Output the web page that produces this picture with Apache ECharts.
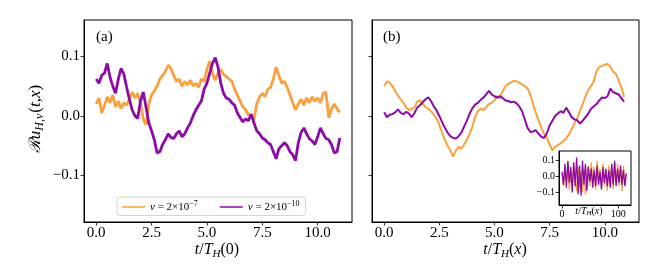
<!DOCTYPE html>
<html><head><meta charset="utf-8">
<script src="https://cdn.jsdelivr.net/npm/echarts@6/dist/echarts.min.js"></script>
<style>html,body{margin:0;padding:0;background:#fff}#c{width:666px;height:268px}</style>
</head><body><div id="c"></div>
<script>
// sample spacing of the read-off series (t / T_H)
const stepMain = 0.125;
const stepInset = 2.6;
const xTicks = [0, 2.5, 5, 7.5, 10];
const yTicks = [-0.1, 0, 0.1];
const insetXTicks = [0, 100];
const seriesNames = ['nu7', 'nu10'];

const orangeA = [0.020,0.030,0.005,0.018,0.032,0.022,0.035,0.015,0.025,0.012,0.022,0.018,0.028,0.040,0.030,0.038,
0.022,-0.005,-0.015,0.020,0.035,0.042,0.050,0.062,0.068,0.075,0.085,0.080,0.068,0.058,0.062,0.050,
0.058,0.052,0.060,0.050,0.055,0.048,0.062,0.058,0.078,0.092,0.070,0.060,0.072,0.078,0.070,0.066,
0.062,0.058,0.045,0.035,0.025,0.015,0.010,0.002,0.000,-0.006,0.020,0.032,0.038,0.032,0.045,0.048,
0.062,0.082,0.068,0.055,0.058,0.048,0.035,0.022,0.010,0.020,0.028,0.018,0.030,0.022,0.032,0.025,
0.030,0.022,0.038,0.040,-0.003,0.012,0.020,0.012,0.006];
const purpleA = [0.062,0.055,0.068,0.072,0.088,0.065,0.050,0.038,0.062,0.080,0.070,0.048,0.028,0.010,0.000,-0.004,
0.025,0.040,0.015,-0.012,-0.025,-0.040,-0.062,-0.060,-0.048,-0.040,-0.030,-0.036,-0.038,-0.030,-0.025,-0.035,
-0.030,-0.020,-0.012,0.000,0.010,0.018,0.025,0.045,0.055,0.072,0.088,0.098,0.082,0.055,0.038,0.030,
0.028,0.022,0.018,0.005,-0.003,-0.010,-0.005,-0.008,0.003,-0.012,-0.025,-0.030,-0.037,-0.040,-0.045,-0.048,
-0.060,-0.072,-0.055,-0.050,-0.045,-0.050,-0.060,-0.065,-0.075,-0.045,-0.028,-0.020,-0.030,-0.038,-0.042,-0.048,
-0.035,-0.020,-0.030,-0.038,-0.040,-0.048,-0.062,-0.060,-0.037];
const orangeB = [0.050,0.058,0.056,0.050,0.042,0.034,0.028,0.022,0.014,0.010,0.012,0.014,0.024,0.026,0.020,0.015,
0.012,0.008,0.002,-0.004,-0.015,-0.028,-0.040,-0.050,-0.058,-0.068,-0.058,-0.052,-0.055,-0.048,-0.040,-0.030,
-0.018,-0.002,0.008,0.012,0.010,0.015,0.020,0.022,0.026,0.033,0.030,0.042,0.050,0.054,0.056,0.059,
0.058,0.056,0.053,0.050,0.046,0.036,0.020,0.005,-0.008,-0.020,-0.030,-0.036,-0.048,-0.058,-0.052,-0.049,
-0.046,-0.042,-0.038,-0.031,-0.022,-0.013,-0.004,0.008,0.020,0.033,0.043,0.050,0.058,0.075,0.082,0.084,
0.086,0.087,0.083,0.074,0.071,0.060,0.048,0.032];
const purpleB = [0.006,-0.002,0.002,0.003,0.006,0.011,0.005,0.003,0.007,0.004,-0.002,0.005,0.014,0.018,0.023,0.028,
0.031,0.025,0.016,0.009,0.000,-0.010,-0.020,-0.028,-0.034,-0.037,-0.038,-0.034,-0.028,-0.018,-0.008,0.004,
0.013,0.019,0.022,0.027,0.031,0.036,0.042,0.036,0.033,0.031,0.033,0.030,0.026,0.025,0.023,0.024,
0.021,0.016,0.008,-0.006,-0.020,-0.027,-0.026,-0.024,-0.030,-0.035,-0.037,-0.029,-0.016,-0.008,0.000,0.004,
0.008,0.005,0.014,0.006,-0.002,-0.006,-0.007,-0.013,-0.008,-0.002,0.004,0.012,0.016,0.020,0.026,0.031,
0.030,0.033,0.046,0.040,0.038,0.036,0.030,0.024];
const orangeInset = [0.02,-0.06,0.05,-0.03,0.08,-0.08,0.04,-0.05,0.07,-0.02,-0.09,0.06,-0.07,0.03,-0.10,0.05,-0.11,0.02,0.07,-0.06,0.09,-0.04,0.06,-0.08,0.10,-0.03,0.05,-0.07,0.08,-0.05,0.04,-0.09,0.07,-0.02,0.06,-0.08,0.09,-0.04,0.08,-0.06,0.05,-0.09,0.07,-0.03,0.02];
const purpleInset = [0.03,-0.05,0.08,-0.07,0.10,-0.04,0.06,-0.10,0.09,-0.06,0.12,-0.11,0.07,-0.12,0.10,-0.05,0.08,-0.09,0.06,-0.03,0.05,-0.07,0.04,-0.06,0.07,-0.05,0.03,-0.08,0.06,-0.04,0.05,-0.06,0.04,-0.07,0.08,-0.05,0.10,-0.06,0.05,-0.04,0.07,-0.05,0.04,-0.06,0.02];

const ORANGE = '#F9A03F', PURPLE = '#8C0BA6';
const FONT = 'Liberation Serif';
const pairs = (arr, dt) => arr.map((v, i) => [i * dt, v]);
const fmtY = v => (v < 0 ? '\u2212' : '') + Math.abs(v).toFixed(1);

const yMin = -0.178, yMax = 0.161;
function xAx(gi, min, max, ticks, fs, fmt) {
  return {type:'value', gridIndex:gi, min, max, position:'bottom',
    axisLine:{show:true, onZero:false, lineStyle:{color:'#000', width:1}}, splitLine:{show:false},
    axisTick:{show:true, inside:false, length:3.5, customValues:ticks, lineStyle:{color:'#000', width:0.8}},
    axisLabel:{show:true, customValues:ticks, formatter:fmt, margin:4, color:'#000', fontFamily:FONT, fontSize:fs}};
}
function yAx(gi, ticks, fs, showLabel) {
  return {type:'value', gridIndex:gi, min:yMin, max:yMax, position:'left',
    axisLine:{show:true, onZero:false, lineStyle:{color:'#000', width:1}}, splitLine:{show:false},
    axisTick:{show:true, inside:false, length:3.5, customValues:ticks, lineStyle:{color:'#000', width:0.8}},
    axisLabel:{show:showLabel, customValues:ticks, formatter:fmtY, margin:4, color:'#000', fontFamily:FONT, fontSize:fs}};
}
const gridBase = {show:true, borderColor:'#000', borderWidth:1, backgroundColor:'rgba(0,0,0,0)', containLabel:false};
const line = (name, data, color, w, xi, yi, z) => ({name, type:'line', data, xAxisIndex:xi, yAxisIndex:yi,
  showSymbol:false, symbol:'none', lineStyle:{color, width:w}, itemStyle:{color}, z, animation:false});

const sub = {fontFamily:FONT, fontSize:11, fontStyle:'italic', padding:[8,0,0,0]};
const chart = echarts.init(document.getElementById('c'), null, {renderer:'canvas'});
chart.setOption({
  animation:false,
  backgroundColor:'#fff',
  grid:[
    Object.assign({left:84, top:20, width:268, height:202}, gridBase),
    Object.assign({left:372, top:20, width:267, height:202}, gridBase),
    Object.assign({left:559, top:151, width:72, height:54, z:5}, gridBase, {backgroundColor:'#fff'})
  ],
  xAxis:[
    xAx(0, -0.55, 11.55, xTicks, 15, v => v.toFixed(1)),
    xAx(1, -0.55, 11.55, xTicks, 15, v => v.toFixed(1)),
    Object.assign(xAx(2, -5.4, 122.7, insetXTicks, 10, v => String(v)), {z:6})
  ],
  yAxis:[
    yAx(0, yTicks, 15, true),
    yAx(1, yTicks, 15, false),
    Object.assign(yAx(2, yTicks, 10, true), {z:6})
  ],
  legend:{
    left:117, top:197, orient:'horizontal', padding:[3,6,3,5], itemGap:22,
    itemWidth:23, itemHeight:1.5, icon:'rect', borderColor:'#d4d4d4', borderWidth:1, borderRadius:3,
    backgroundColor:'rgba(255,255,255,0.8)',
    data:seriesNames,
    formatter: n => n === 'nu7' ? '{i|ν}{n| = 2×10}{s|−7}' : '{i|ν}{n| = 2×10}{s|−10}',
    textStyle:{color:'#000', fontFamily:FONT, fontSize:11,
      rich:{i:{fontFamily:FONT, fontSize:11, fontStyle:'italic'}, n:{fontFamily:FONT, fontSize:11},
            s:{fontFamily:FONT, fontSize:8, padding:[0,0,6,0]}}}
  },
  series:[
    line('nu7', pairs(orangeA, stepMain), ORANGE, 2.8, 0, 0, 2),
    line('nu10', pairs(purpleA, stepMain), PURPLE, 2.8, 0, 0, 3),
    line('nu7', pairs(orangeB, stepMain), ORANGE, 2, 1, 1, 2),
    line('nu10', pairs(purpleB, stepMain), PURPLE, 2, 1, 1, 3),
    line('nu7', pairs(orangeInset, stepInset), ORANGE, 1.3, 2, 2, 7),
    line('nu10', pairs(purpleInset, stepInset), PURPLE, 1.3, 2, 2, 8)
  ],
  graphic:[
    {type:'text', x:96, y:37, style:{text:'(a)', font:'15px "Liberation Serif"', fill:'#000', verticalAlign:'middle'}},
    {type:'text', x:383, y:37, style:{text:'(b)', font:'15px "Liberation Serif"', fill:'#000', verticalAlign:'middle'}},
    {type:'text', x:36, y:119, rotation:Math.PI/2, style:{
      text:'{c|ℛ}{i|u}{sb|H,ν}{n|(}{i|t}{n|,}{i|x}{n|)}', align:'center', verticalAlign:'middle', fill:'#000',
      rich:{c:{fontFamily:'DejaVu Serif', fontSize:16, fontStyle:'italic'}, i:{fontFamily:FONT, fontSize:17, fontStyle:'italic'},
            n:{fontFamily:FONT, fontSize:17}, sb:{fontFamily:FONT, fontSize:12, fontStyle:'italic', padding:[8,1,0,0]}}}},
    {type:'text', x:217, y:250, style:{
      text:'{i|t}{n|/}{i|T}{sb|H}{n|(0)}', align:'center', verticalAlign:'middle', fill:'#000',
      rich:{i:{fontFamily:FONT, fontSize:16, fontStyle:'italic'}, n:{fontFamily:FONT, fontSize:16}, sb:sub}}},
    {type:'text', x:505, y:250, style:{
      text:'{i|t}{n|/}{i|T}{sb|H}{n|(}{i|x}{n|)}', align:'center', verticalAlign:'middle', fill:'#000',
      rich:{i:{fontFamily:FONT, fontSize:16, fontStyle:'italic'}, n:{fontFamily:FONT, fontSize:16}, sb:sub}}},
    {type:'text', x:589, y:211, z:10, style:{
      text:'{i|t}{n|/}{i|T}{sb|H}{n|(}{i|x}{n|)}', align:'center', verticalAlign:'middle', fill:'#000',
      rich:{i:{fontFamily:FONT, fontSize:10, fontStyle:'italic'}, n:{fontFamily:FONT, fontSize:10},
            sb:{fontFamily:FONT, fontSize:7, fontStyle:'italic', padding:[5,0,0,0]}}}}
  ]
});
</script></body></html>
